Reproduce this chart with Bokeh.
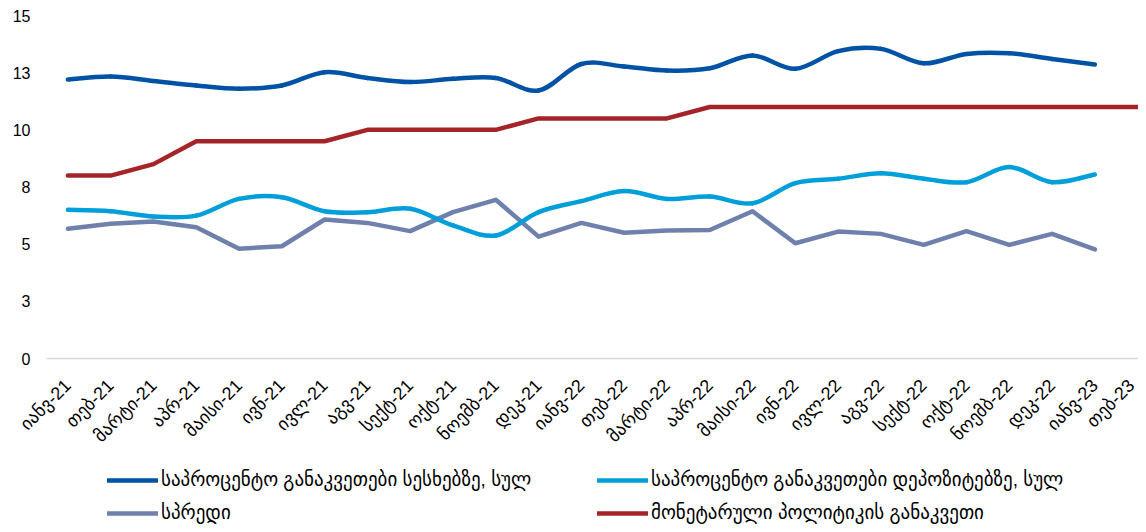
import numpy as np
from bokeh.plotting import figure
from bokeh.layouts import column
from bokeh.models import FixedTicker, Legend, LegendItem, Range1d
from bokeh.embed import file_html
from bokeh.resources import INLINE

months = ["იანვ-21", "თებ-21", "მარტი-21", "აპრ-21", "მაისი-21", "ივნ-21", "ივლ-21",
          "აგვ-21", "სექტ-21", "ოქტ-21", "ნოემბ-21", "დეკ-21",
          "იანვ-22", "თებ-22", "მარტი-22", "აპრ-22", "მაისი-22", "ივნ-22", "ივლ-22",
          "აგვ-22", "სექტ-22", "ოქტ-22", "ნოემბ-22", "დეკ-22",
          "იანვ-23", "თებ-23"]

loans = [12.20, 12.33, 12.14, 11.94, 11.80, 11.94, 12.52, 12.27, 12.09, 12.23, 12.27, 11.72,
         12.88, 12.77, 12.59, 12.69, 13.25, 12.67, 13.44, 13.54, 12.91, 13.32, 13.35, 13.10, 12.86]
deposits = [6.50, 6.44, 6.21, 6.25, 6.98, 7.05, 6.44, 6.40, 6.55, 5.82, 5.38, 6.40,
            6.88, 7.32, 6.98, 7.08, 6.79, 7.67, 7.86, 8.10, 7.86, 7.71, 8.37, 7.71, 8.05]
spread = [5.67, 5.89, 5.99, 5.74, 4.80, 4.91, 6.08, 5.93, 5.57, 6.40, 6.94, 5.33,
          5.93, 5.50, 5.60, 5.62, 6.44, 5.04, 5.55, 5.45, 4.97, 5.57, 4.97, 5.45, 4.77]
policy = [8.0, 8.0, 8.5, 9.5, 9.5, 9.5, 9.5, 10.0, 10.0, 10.0, 10.0, 10.5,
          10.5, 10.5, 10.5, 11.0, 11.0, 11.0, 11.0, 11.0, 11.0, 11.0, 11.0, 11.0, 11.0, 11.0]

y_ticks = [0, 2.5, 5, 7.5, 10, 12.5, 15]
y_tick_labels = ["0", "3", "5", "8", "10", "13", "15"]

names = ["საპროცენტო განაკვეთები სესხებზე, სულ",
         "საპროცენტო განაკვეთები დეპოზიტებზე, სულ",
         "სპრედი",
         "მონეტარული პოლიტიკის განაკვეთი"]
colors = ["#0052A5", "#009FDA", "#6F80AC", "#A5242A"]

FONT = "Liberation Sans, DejaVu Sans"
LW = 4.5

p = figure(width=1138, height=456, output_backend="svg", toolbar_location=None,
           x_range=Range1d(-0.5, 25.02), y_range=Range1d(0, 15),
           min_border_left=46, min_border_right=0, min_border_top=15, min_border_bottom=98)
p.outline_line_color = None
p.xgrid.visible = False
p.ygrid.visible = False


def smooth(ys):
    ys = np.asarray(ys, dtype=float)
    xs = np.arange(len(ys), dtype=float)
    n = len(ys)
    out = dict(x0=[], y0=[], x1=[], y1=[], cx0=[], cy0=[], cx1=[], cy1=[])
    for i in range(n - 1):
        a = max(i - 1, 0)
        d = min(i + 2, n - 1)
        out["x0"].append(xs[i]); out["y0"].append(ys[i])
        out["x1"].append(xs[i + 1]); out["y1"].append(ys[i + 1])
        out["cx0"].append(xs[i] + (xs[i + 1] - xs[a]) / 6)
        out["cy0"].append(ys[i] + (ys[i + 1] - ys[a]) / 6)
        out["cx1"].append(xs[i + 1] - (xs[d] - xs[i]) / 6)
        out["cy1"].append(ys[i + 1] - (ys[d] - ys[i]) / 6)
    return out


p.line(list(range(len(spread))), spread, line_color=colors[2], line_width=LW,
       line_cap="round", line_join="round")
p.line(list(range(len(policy))), policy, line_color=colors[3], line_width=LW,
       line_cap="round", line_join="round")
sd = smooth(deposits)
p.bezier(source=sd, x0="x0", y0="y0", x1="x1", y1="y1", cx0="cx0", cy0="cy0",
         cx1="cx1", cy1="cy1", line_color=colors[1], line_width=LW, line_cap="round")
sl = smooth(loans)
p.bezier(source=sl, x0="x0", y0="y0", x1="x1", y1="y1", cx0="cx0", cy0="cy0",
         cx1="cx1", cy1="cy1", line_color=colors[0], line_width=LW, line_cap="round")

# axes
p.xaxis.ticker = FixedTicker(ticks=list(range(len(months))))
p.xaxis.major_label_overrides = {i: m for i, m in enumerate(months)}
p.xaxis.major_label_orientation = np.pi / 4
p.xaxis.major_label_text_font = FONT
p.xaxis.major_label_text_font_size = "18px"
p.xaxis.major_label_text_color = "#000000"
p.xaxis.major_label_standoff = 24
p.xaxis.axis_line_color = "#D9D9D9"
p.xaxis.axis_line_width = 1.5
p.xaxis.major_tick_line_color = None
p.xaxis.minor_tick_line_color = None
p.xaxis.major_tick_out = 0
p.xaxis.major_tick_in = 0

p.yaxis.ticker = FixedTicker(ticks=y_ticks)
p.yaxis.major_label_overrides = {t: l for t, l in zip(y_ticks, y_tick_labels)}
p.yaxis.major_label_text_font = FONT
p.yaxis.major_label_text_font_size = "16px"
p.yaxis.major_label_text_color = "#000000"
p.yaxis.major_label_standoff = 16
p.yaxis.axis_line_color = None
p.yaxis.major_tick_line_color = None
p.yaxis.minor_tick_line_color = None
p.yaxis.major_tick_out = 0
p.yaxis.major_tick_in = 0

# legend strip (its y range lies far below the series, so the proxy lines stay hidden)
pl = figure(width=1138, height=68, output_backend="svg", toolbar_location=None,
            x_range=Range1d(-0.5, 25.02), y_range=Range1d(-2, -1),
            min_border_left=46, min_border_right=0, min_border_top=0, min_border_bottom=0)
pl.outline_line_color = None
pl.xaxis.visible = False
pl.yaxis.visible = False
pl.xgrid.visible = False
pl.ygrid.visible = False
series = [loans, deposits, spread, policy]
lr = [pl.line(list(range(len(s))), s, line_color=c, line_width=LW, line_cap="round")
      for s, c in zip(series, colors)]

legend_style = dict(orientation="horizontal", margin=0, padding=0,
                    glyph_width=51, glyph_height=20, label_height=20, label_width=420,
                    label_standoff=3, spacing=16,
                    label_text_font=FONT, label_text_font_size="19px",
                    label_text_color="#000000",
                    border_line_color=None, background_fill_alpha=0)
legend1 = Legend(items=[LegendItem(label=names[0], renderers=[lr[0]]),
                        LegendItem(label=names[1], renderers=[lr[1]])],
                 location=(61, 33), **legend_style)
legend2 = Legend(items=[LegendItem(label=names[2], renderers=[lr[2]]),
                        LegendItem(label=names[3], renderers=[lr[3]])],
                 location=(61, 0), **legend_style)
pl.add_layout(legend1, "center")
pl.add_layout(legend2, "center")

layout = column(p, pl, spacing=0)
open("out.html", "w").write(file_html(layout, INLINE))
